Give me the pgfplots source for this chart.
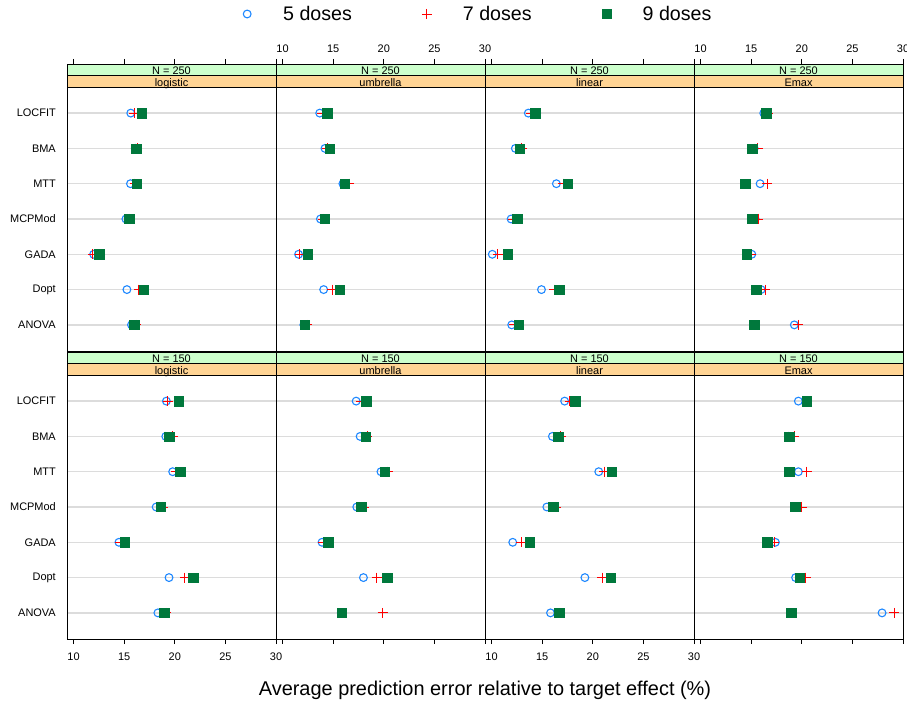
\documentclass[border=0pt]{standalone}
\usepackage{pgfplots}
\pgfplotsset{compat=1.18}
\usepackage{pgfplotstable}
\usepackage{fontspec}
\setmainfont{Liberation Sans}
\definecolor{cblue}{HTML}{1E88FF}
\definecolor{cred}{HTML}{FF0000}
\definecolor{cgreen}{HTML}{00783C}
\definecolor{sgreen}{HTML}{CCFFCC}
\definecolor{sorange}{HTML}{FFD494}
\definecolor{gridgray}{HTML}{DCDCDC}

% y: 7=LOCFIT 6=BMA 5=MTT 4=MCPMod 3=GADA 2=Dopt 1=ANOVA
\pgfplotstableread{
y d5 d7 d9
7 15.65 15.98 16.73
6 16.10 16.30 16.18
5 15.62 16.05 16.24
4 15.17 15.53 15.50
3 11.98 11.90 12.53
2 15.27 16.44 16.90
1 15.72 16.18 15.98
}\tA
\pgfplotstableread{
y d5 d7 d9
7 13.67 13.93 14.39
6 14.19 14.40 14.65
5 15.96 16.61 16.16
4 13.74 14.00 14.16
3 11.58 11.71 12.46
2 14.06 14.91 15.67
1 12.10 12.42 12.17
}\tB
\pgfplotstableread{
y d5 d7 d9
7 13.63 13.89 14.31
6 12.35 12.97 12.75
5 16.40 17.06 17.52
4 11.93 12.10 12.55
3 10.07 10.62 11.57
2 14.93 16.20 16.70
1 11.99 12.25 12.68
}\tC
\pgfplotstableread{
y d5 d7 d9
7 16.24 16.70 16.47
6 15.30 15.65 15.09
5 15.88 16.60 14.40
4 15.39 15.71 15.09
3 15.06 14.99 14.56
2 15.98 16.37 15.48
1 19.26 19.66 15.29
}\tD
\pgfplotstableread{
y d5 d7 d9
7 19.17 19.30 20.41
6 19.11 19.79 19.46
5 19.79 20.12 20.54
4 18.16 18.82 18.58
3 14.48 14.62 15.07
2 19.43 21.00 21.80
1 18.33 19.14 18.97
}\tE
\pgfplotstableread{
y d5 d7 d9
7 17.27 17.76 18.28
6 17.66 18.35 18.21
5 19.72 20.37 20.08
4 17.33 18.09 17.76
3 13.90 14.00 14.49
2 17.99 19.30 20.34
1 15.80 19.88 15.86
}\tF
\pgfplotstableread{
y d5 d7 d9
7 17.22 17.71 18.27
6 16.01 16.83 16.60
5 20.59 21.14 21.86
4 15.46 16.34 16.08
3 12.09 12.94 13.76
2 19.22 20.91 21.76
1 15.82 16.67 16.70
}\tG
\pgfplotstableread{
y d5 d7 d9
7 19.66 20.51 20.48
6 18.70 19.26 18.74
5 19.66 20.48 18.77
4 19.30 19.98 19.33
3 17.39 17.26 16.60
2 19.39 20.37 19.78
1 27.93 29.11 18.97
}\tH

\newcommand{\smallfont}{\fontsize{11}{12}\selectfont}
\newcommand{\bigfont}{\fontsize{19.7}{22}\selectfont}
\newcommand{\titlefont}{\fontsize{20}{22}\selectfont}

\pgfplotsset{
  panel/.style={
    scale only axis, width=209bp, height=287bp,
    xmin=9.35, xmax=30, ymin=0.26, ymax=8.3917,
    anchor=south west,
    ytick={1,...,7}, yticklabels={},
    ymajorgrids, major grid style={gridgray, line width=1.3bp},
    y tick style={draw=none},
    xtick={10,15,20,25,30},
    tick align=outside, major tick length=5bp,
    x tick style={black, line width=0.6bp},
    axis line style={black, line width=0.8bp},
    tick label style={font=\smallfont, inner sep=0pt},
    /pgf/number format/assume math mode=true,
    clip=false,
  },
  toprow/.style={xtick pos=right, xticklabel pos=right, xticklabel shift=5.8bp},
  botrow/.style={xtick pos=left, xticklabel pos=left, xticklabel shift=8.8bp},
  nolab/.style={xticklabels={}},
  ylab/.style={yticklabels={ANOVA,Dopt,GADA,MCPMod,MTT,BMA,LOCFIT}, yticklabel shift=6bp},
}

\newcommand{\panelplots}[3]{%
  \draw[black, line width=0.6bp, fill=sorange] (axis cs:9.35,7.74) rectangle (axis cs:30,8.066);
  \draw[black, line width=0.6bp, fill=sgreen] (axis cs:9.35,8.066) rectangle (axis cs:30,8.3917);
  \node[font=\smallfont, inner sep=0pt, anchor=base] at (axis cs:19.675,7.76) {#3};
  \node[font=\smallfont, inner sep=0pt, anchor=base] at (axis cs:19.675,8.086) {N = #2};
  \addplot[only marks, mark=o, mark size=3.9bp, cblue, line width=1.1bp] table[x=d5,y=y]{#1};
  \addplot[only marks, mark=+, mark size=5bp, cred, line width=0.9bp] table[x=d7,y=y]{#1};
  \addplot[only marks, mark=square*, mark size=4.7bp, cgreen] table[x=d9,y=y]{#1};
}

\begin{document}
\begin{tikzpicture}
\path[use as bounding box] (0,0) rectangle (907bp,707bp);

% top row (N = 250)
\begin{axis}[panel, toprow, nolab, ylab, at={(67bp,356bp)},
  legend columns=3,
  legend style={at={(axis description cs:0.8373,1.1742)}, anchor=west, draw=none, fill=none,
    inner sep=0pt, font=\bigfont, nodes={inner sep=0pt},
    /tikz/every odd column/.append style={column sep=31bp},
    /tikz/every even column/.append style={column sep=70bp}},
  legend image code/.code={\path[draw=none, fill=none] (-5bp,0bp) -- (5bp,0bp); \draw[#1] plot coordinates {(0bp,0bp)};},
]
\panelplots{\tA}{250}{logistic}
\legend{5 doses, 7 doses, 9 doses}
\end{axis}
\begin{axis}[panel, toprow, at={(276bp,356bp)}]
\panelplots{\tB}{250}{umbrella}
\end{axis}
\begin{axis}[panel, toprow, nolab, at={(485bp,356bp)}]
\panelplots{\tC}{250}{linear}
\end{axis}
\begin{axis}[panel, toprow, at={(694bp,356bp)}]
\panelplots{\tD}{250}{Emax}
\end{axis}

% bottom row (N = 150)
\begin{axis}[panel, botrow, ylab, at={(67bp,68bp)}]
\panelplots{\tE}{150}{logistic}
\end{axis}
\begin{axis}[panel, botrow, nolab, at={(276bp,68bp)}]
\panelplots{\tF}{150}{umbrella}
\end{axis}
\begin{axis}[panel, botrow, at={(485bp,68bp)}]
\panelplots{\tG}{150}{linear}
\end{axis}
\begin{axis}[panel, botrow, nolab, at={(694bp,68bp)}]
\panelplots{\tH}{150}{Emax}
\end{axis}

\node[font=\titlefont, anchor=base, inner sep=0pt] at (485bp,12bp) {Average prediction error relative to target effect (\%)};
\end{tikzpicture}
\end{document}
